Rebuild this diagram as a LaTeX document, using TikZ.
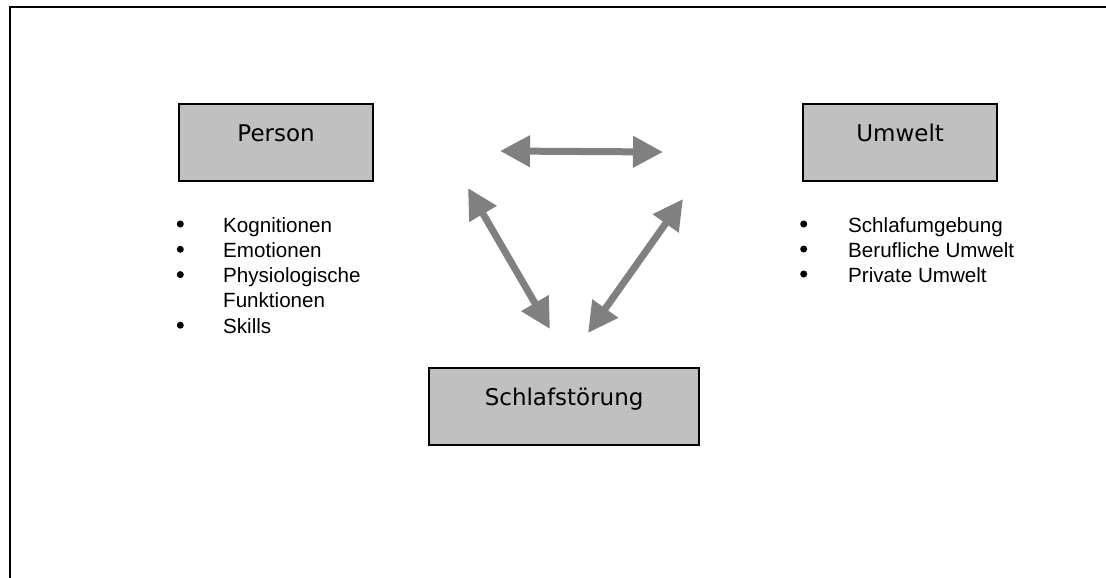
\documentclass[tikz,border=0pt]{standalone}
\usepackage{fontspec}
\setmainfont{Liberation Sans}
\newfontfamily\titlefont{DejaVu Sans}
\usetikzlibrary{arrows.meta}
\definecolor{boxgray}{HTML}{C0C0C0}
\definecolor{arrowgray}{HTML}{808080}
\begin{document}
\begin{tikzpicture}[x=1pt,y=-1pt,
  box/.style={draw=black, line width=2.2pt, fill=boxgray, anchor=north west,
    inner sep=0pt, minimum height=77pt, text height=37pt, text depth=40pt,
    font=\titlefont\fontsize{23}{28}\selectfont},
  item/.style={anchor=base west, inner sep=0pt, font=\fontsize{20.6}{25}\selectfont},
  dot/.style={circle, fill=black, inner sep=0pt, minimum size=7pt},
  link/.style={draw=arrowgray, line width=7pt,
    {Triangle[length=30pt,width=30pt]}-{Triangle[length=30pt,width=30pt]}}
]
\useasboundingbox (0,0) rectangle (1106,578);

% outer frame (left and top edges)
\draw[line width=2pt] (10,578) -- (10,7) -- (1106,7);

% the three factors
\node[box, minimum width=194pt] (person) at (178,103) {Person};
\node[box, minimum width=194pt] (umwelt) at (802,103) {Umwelt};
\node[box, minimum width=270pt] (stoerung) at (428,367) {Schlafstörung};

% aspects of the person
\foreach \t [count=\i] in {Kognitionen, Emotionen, Physiologische, Funktionen, Skills} {
  \node[item] (pi\i) at (223,{232+25.3*(\i-1)}) {\t};
}
\foreach \i in {1,2,3,5} {
  \node[dot] (pb\i) at (180.3,{224+25.3*(\i-1)}) {};
}

% aspects of the environment
\foreach \t [count=\i] in {Schlafumgebung, Berufliche Umwelt, Private Umwelt} {
  \node[item] (ui\i) at (848,{232+25*(\i-1)}) {\t};
  \node[dot] (ub\i) at (803.7,{224+25*(\i-1)}) {};
}

% mutual influences
\coordinate (topL) at (500,151);
\coordinate (topR) at (663,152);
\coordinate (leftU) at (468,188);
\coordinate (leftD) at (550,329);
\coordinate (rightU) at (683,199);
\coordinate (rightD) at (588,333);
\draw[link] (topL) -- (topR);
\draw[link] (leftU) -- (leftD);
\draw[link] (rightU) -- (rightD);
\end{tikzpicture}
\end{document}
